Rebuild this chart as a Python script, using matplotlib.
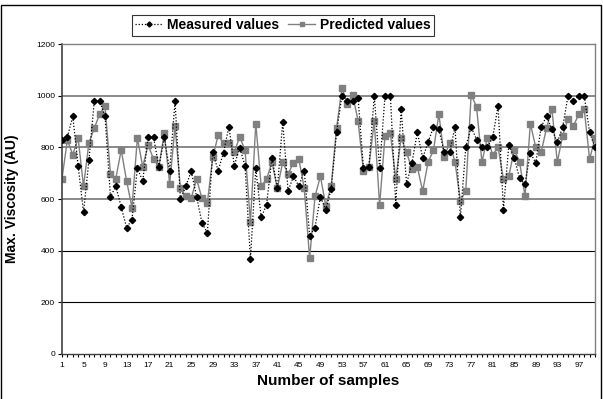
import numpy as np
import matplotlib
matplotlib.use("Agg")
import matplotlib.pyplot as plt
from matplotlib.patches import Rectangle

plt.rcParams['font.family'] = ['Liberation Sans', 'DejaVu Sans']

# values, samples 1..100
measured = [830, 839, 921, 729, 548, 750, 979, 979, 921, 609,
            649, 569, 489, 520, 719, 670, 839, 839, 725, 839,
            710, 979, 600, 649, 708, 609, 508, 468, 781, 710,
            779, 880, 729, 799, 729, 368, 719, 529, 578, 759,
            641, 899, 630, 689, 649, 710, 458, 489, 609, 559,
            639, 858, 1000, 979, 979, 990, 719, 723, 1000, 719,
            1000, 1000, 578, 948, 658, 739, 858, 759, 819, 879,
            870, 781, 781, 879, 529, 800, 879, 830, 800, 800,
            839, 960, 559, 810, 759, 680, 659, 779, 739, 879,
            920, 870, 819, 879, 1000, 979, 1000, 1000, 859, 800]

predicted = [679, 828, 772, 835, 649, 817, 874, 929, 959, 697,
             679, 790, 670, 567, 836, 725, 810, 754, 725, 854,
             659, 881, 641, 610, 603, 677, 603, 585, 761, 846,
             817, 817, 781, 840, 790, 510, 892, 649, 677, 743,
             641, 743, 696, 741, 754, 641, 370, 610, 688, 574,
             649, 874, 1031, 968, 1003, 902, 707, 723, 901, 576,
             845, 854, 677, 836, 781, 715, 724, 631, 743, 788,
             929, 763, 817, 743, 594, 631, 1004, 957, 743, 836,
             772, 800, 677, 688, 791, 743, 610, 892, 800, 781,
             874, 948, 743, 845, 910, 883, 929, 948, 754, 835]

samples = np.arange(1, len(measured) + 1)
xtick_labels = list(range(1, 98, 4))
ytick_vals = [0, 200, 400, 600, 800, 1000, 1200]

fig = plt.figure(figsize=(6.03, 3.99), dpi=100)
ax = fig.add_axes([0.1028, 0.1128, 0.8839, 0.7769])

# gridlines (upper ones look grey, lower ones black in the original)
for yv in [1000, 800, 600]:
    ax.axhline(yv, color='#808080', lw=1.3, zorder=1)
for yv in [400, 200]:
    ax.axhline(yv, color='black', lw=0.8, zorder=1)

ax.plot(samples, predicted, color='#808080', lw=1.0, marker='s', ms=4.2,
        mfc='#808080', mec='#808080', label='Predicted values', zorder=2)
ax.plot(samples, measured, color='black', lw=0.9, ls=(0, (1, 1.5)), marker='D',
        ms=3.2, mfc='black', mec='black', label='Measured values', zorder=3)

ax.set_xlim(1, 100)
ax.set_ylim(0, 1200)
ax.set_yticks(ytick_vals)
ax.set_yticklabels([str(v) for v in ytick_vals], fontsize=6)
ax.set_xticks(xtick_labels)
ax.set_xticklabels([str(v) for v in xtick_labels], fontsize=6)
ax.set_xticks(samples, minor=True)
ax.tick_params(axis='x', which='both', length=2.5, width=0.8, direction='out', pad=3)
ax.tick_params(axis='y', which='major', length=3, width=0.8, direction='out', pad=2)

for side in ['top', 'right', 'bottom']:
    ax.spines[side].set_color('#808080')
    ax.spines[side].set_linewidth(1.0)
ax.spines['bottom'].set_color('#404040')
ax.spines['left'].set_color('#404040')
ax.spines['left'].set_linewidth(1.2)

ax.set_xlabel('Number of samples', fontsize=11, fontweight='bold', labelpad=4)
ax.set_ylabel('Max. Viscosity (AU)', fontsize=10, fontweight='bold', labelpad=12)

handles, labels = ax.get_legend_handles_labels()
leg = fig.legend(handles[::-1], labels[::-1], loc='center', bbox_to_anchor=(0.469, 0.937),
                 ncol=2, prop={'weight': 'bold', 'size': 10},
                 frameon=True, fancybox=False, handlelength=2.0, handletextpad=0.3,
                 columnspacing=0.6, borderpad=0.25, borderaxespad=0, markerscale=0.8)
leg.get_frame().set_edgecolor('black')
leg.get_frame().set_linewidth(0.8)

# outer chart border
fig.patches.append(Rectangle((0.002, -0.01), 0.995, 0.998, transform=fig.transFigure,
                             fill=False, edgecolor='black', lw=1.0))

plt.savefig('out.png', dpi=100)
